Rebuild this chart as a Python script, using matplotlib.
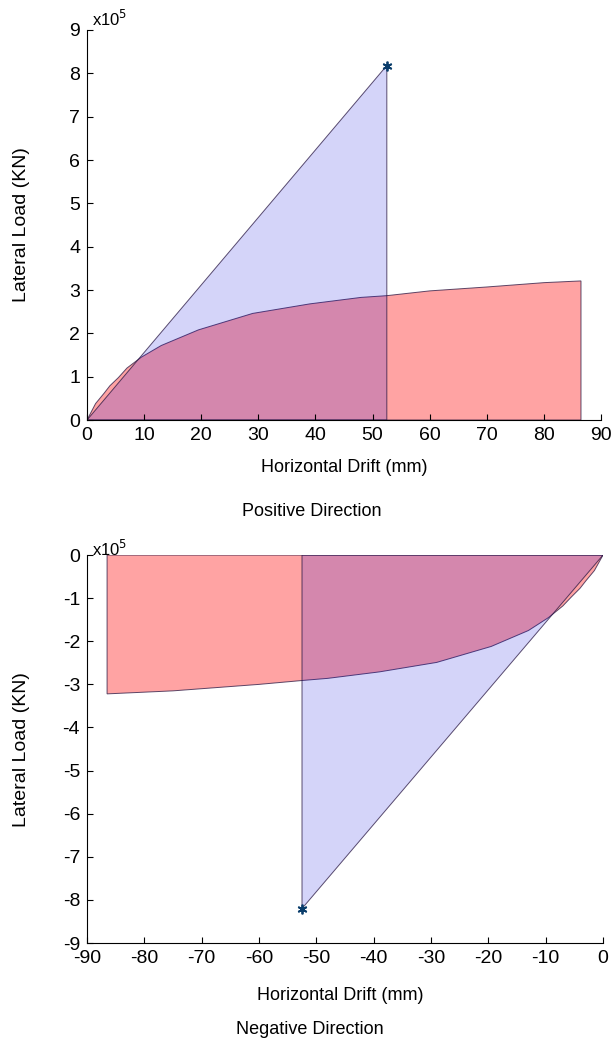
import numpy as np
import matplotlib.pyplot as plt

plt.rcParams['font.family'] = ['Liberation Sans', 'DejaVu Sans']
plt.rcParams['axes.unicode_minus'] = False

# pushover curve, positive direction (drift mm, load kN)
pos_drift = [0, 1.5, 3, 4, 5.5, 7, 9.5, 13, 19.5, 29, 39, 48, 52.5, 60, 70, 80, 86.5]
pos_load = [0, 38000, 62000, 79000, 98000, 120000, 145000, 172000, 208000, 246000,
            268000, 283000, 287000, 298000, 307000, 317000, 321000]
# negative direction
neg_drift = [0, -1.5, -3, -4, -5.5, -7, -9.5, -13, -19.5, -29, -39, -48, -52.5, -60, -75, -86.5]
neg_load = [0, -36000, -60000, -77000, -97000, -118000, -145000, -175000, -212000, -249000,
            -271000, -286000, -291000, -300000, -315000, -322000]

# target point (star)
pos_target = (52.5, 818000)
neg_target = (-52.5, -820000)

RED = (1.0, 0.0, 0.0, 0.36)
BLUE = (0.0, 0.0, 0.88, 0.17)
EDGE = (0.15, 0.08, 0.25, 0.75)


def panel(ax, drift, load, target, xlim, ylim):
    d = np.array(drift)
    f = np.array(load) / 1e5
    tx, ty = target[0], target[1] / 1e5
    # red area under capacity curve
    ax.fill(np.r_[d, d[-1]], np.r_[f, 0], facecolor=RED, edgecolor=EDGE, linewidth=0.7)
    # blue triangle up to target point
    ax.fill([0, tx, tx], [0, ty, 0], facecolor=BLUE, edgecolor=EDGE, linewidth=0.7)
    ax.plot(tx, ty, marker=(6, 2, 0), ms=7, mew=1.3, color='#0a3d6b')
    ax.set_xlim(xlim)
    ax.set_ylim(ylim)
    ax.spines['right'].set_visible(False)
    ax.spines['top'].set_visible(False)
    ax.tick_params(direction='in', length=4, labelsize=14, width=0.8, pad=5)
    ax.set_xticks(np.arange(xlim[0], xlim[1] + 1, 10))
    ax.set_yticks(np.arange(ylim[0], ylim[1] + 1, 1))


fig = plt.figure(figsize=(6.11, 10.41), dpi=100)
ax1 = fig.add_axes([0.1424, 0.5965, 0.8412, 0.3747])
panel(ax1, pos_drift, pos_load, pos_target, (0, 90), (0, 9))
ax2 = fig.add_axes([0.1424, 0.0941, 0.8445, 0.3727])
panel(ax2, neg_drift, neg_load, neg_target, (-90, 0), (-9, 0))

fig.text(0.151, 0.982, 'x10$^5$', fontsize=12, va='center')
fig.text(0.151, 0.473, 'x10$^5$', fontsize=12, va='center')

fig.text(344 / 611, 1 - 467 / 1041, 'Horizontal Drift (mm)', fontsize=13, ha='center', va='center')
fig.text(312 / 611, 1 - 512 / 1041, 'Positive Direction', fontsize=13, ha='center', va='center')
fig.text(340 / 611, 1 - 995 / 1041, 'Horizontal Drift (mm)', fontsize=13, ha='center', va='center')
fig.text(310 / 611, 1 - 1029 / 1041, 'Negative Direction', fontsize=13, ha='center', va='center')
fig.text(22 / 611, 1 - 225 / 1041, 'Lateral Load (KN)', fontsize=14, rotation=90, ha='center', va='center')
fig.text(22 / 611, 1 - 750 / 1041, 'Lateral Load (KN)', fontsize=14, rotation=90, ha='center', va='center')

fig.savefig('out.png', dpi=100)
